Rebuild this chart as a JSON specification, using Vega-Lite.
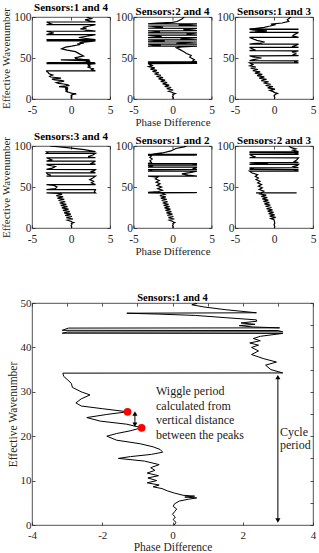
{
  "$schema": "https://vega.github.io/schema/vega-lite/v6.json",
  "padding": {"left": 0, "top": 1, "right": 0, "bottom": 0},
  "background": "white",
  "datasets": {
    "phase": [
      {"s":"14","d":0.05,"w":0},{"s":"14","d":0.10,"w":0.6},{"s":"14","d":0.02,"w":1.2},{"s":"14","d":0.08,"w":1.8},{"s":"14","d":0.00,"w":2.4},{"s":"14","d":0.06,"w":3.0},{"s":"14","d":0.12,"w":3.6},{"s":"14","d":0.02,"w":4.2},{"s":"14","d":0.06,"w":4.8},{"s":"14","d":0.20,"w":5.4},{"s":"14","d":0.45,"w":5.8},{"s":"14","d":0.69,"w":6.1},{"s":"14","d":0.35,"w":6.3},{"s":"14","d":0.63,"w":6.5},{"s":"14","d":0.30,"w":6.7},{"s":"14","d":0.05,"w":7.2},{"s":"14","d":-0.15,"w":7.7},{"s":"14","d":-0.30,"w":8.2},{"s":"14","d":-0.55,"w":8.6},{"s":"14","d":-0.38,"w":9.0},{"s":"14","d":-0.72,"w":9.5},{"s":"14","d":-0.45,"w":10.0},{"s":"14","d":-0.70,"w":10.6},{"s":"14","d":-0.40,"w":11.1},{"s":"14","d":-0.72,"w":11.7},{"s":"14","d":-0.50,"w":12.3},{"s":"14","d":-0.62,"w":12.9},{"s":"14","d":-0.38,"w":13.6},{"s":"14","d":-0.80,"w":14.4},{"s":"14","d":-1.54,"w":15.0},{"s":"14","d":-1.20,"w":15.4},{"s":"14","d":-0.60,"w":15.9},{"s":"14","d":-0.28,"w":16.4},{"s":"14","d":-0.35,"w":17.0},{"s":"14","d":-0.55,"w":17.6},{"s":"14","d":-0.92,"w":18.3},{"s":"14","d":-1.59,"w":19.1},{"s":"14","d":-1.87,"w":20.0},{"s":"14","d":-1.59,"w":20.6},{"s":"14","d":-1.21,"w":21.2},{"s":"14","d":-0.88,"w":21.9},{"s":"14","d":-1.30,"w":22.7},{"s":"14","d":-2.06,"w":23.4},{"s":"14","d":-2.44,"w":24.2},{"s":"14","d":-1.87,"w":24.9},{"s":"14","d":-1.28,"w":25.5},{"s":"14","d":-2.00,"w":26.2},{"s":"14","d":-2.60,"w":26.8},{"s":"14","d":-2.75,"w":27.5},{"s":"14","d":-2.60,"w":28.4},{"s":"14","d":-2.35,"w":29.3},{"s":"14","d":-2.60,"w":30.0},{"s":"14","d":-2.85,"w":31.0},{"s":"14","d":-2.88,"w":31.9},{"s":"14","d":-3.00,"w":32.8},{"s":"14","d":-3.10,"w":33.5},{"s":"14","d":-3.12,"w":34.2},{"s":"14","d":3.14,"w":34.25},{"s":"14","d":2.80,"w":35.0},{"s":"14","d":2.65,"w":36.0},{"s":"14","d":2.96,"w":36.7},{"s":"14","d":2.58,"w":37.5},{"s":"14","d":2.25,"w":38.4},{"s":"14","d":2.45,"w":39.2},{"s":"14","d":2.25,"w":40.0},{"s":"14","d":2.45,"w":40.5},{"s":"14","d":2.20,"w":41.0},{"s":"14","d":2.50,"w":41.5},{"s":"14","d":2.30,"w":42.0},{"s":"14","d":2.50,"w":42.5},{"s":"14","d":3.14,"w":43.15},{"s":"14","d":-3.14,"w":43.2},{"s":"14","d":-3.00,"w":43.45},{"s":"14","d":3.14,"w":43.5},{"s":"14","d":3.00,"w":43.8},{"s":"14","d":-3.14,"w":43.85},{"s":"14","d":-2.96,"w":44.35},{"s":"14","d":3.05,"w":44.4},{"s":"14","d":2.30,"w":44.6},{"s":"14","d":1.90,"w":44.9},{"s":"14","d":2.35,"w":45.2},{"s":"14","d":1.95,"w":45.5},{"s":"14","d":2.40,"w":45.9},{"s":"14","d":2.39,"w":46.2},{"s":"14","d":1.50,"w":46.7},{"s":"14","d":0.65,"w":47.2},{"s":"14","d":-0.40,"w":47.5},{"s":"14","d":-1.30,"w":47.7},{"s":"14","d":2.39,"w":47.8},{"s":"14","d":1.50,"w":48.5},{"s":"14","d":0.90,"w":49.1},{"s":"14","d":0.55,"w":49.6},{"s":"14","d":0.70,"w":49.9},{"s":"14","d":0.45,"w":50.3},{"s":"14","d":0.90,"w":51.0},{"s":"14","d":1.60,"w":52.5},{"s":"14","d":1.20,"w":54.4},{"s":"14","d":0.57,"w":57.7},{"s":"14","d":-0.50,"w":59.7},{"s":"14","d":-1.20,"w":61.3},{"s":"14","d":-0.70,"w":63.3},{"s":"14","d":0.10,"w":64.5},{"s":"14","d":1.20,"w":66.5},{"s":"14","d":0.80,"w":67.2},{"s":"14","d":1.65,"w":68.0},{"s":"14","d":1.10,"w":68.8},{"s":"14","d":2.00,"w":69.6},{"s":"14","d":3.14,"w":70.8},{"s":"14","d":-3.14,"w":70.9},{"s":"14","d":-2.60,"w":71.6},{"s":"14","d":-3.14,"w":72.4},{"s":"14","d":3.14,"w":72.5},{"s":"14","d":2.20,"w":73.5},{"s":"14","d":1.00,"w":75.0},{"s":"14","d":1.80,"w":76.2},{"s":"14","d":2.60,"w":77.5},{"s":"14","d":3.14,"w":78.5},{"s":"14","d":-3.14,"w":78.6},{"s":"14","d":-2.80,"w":79.5},{"s":"14","d":-2.20,"w":80.5},{"s":"14","d":-3.14,"w":82.6},{"s":"14","d":3.14,"w":82.7},{"s":"14","d":2.00,"w":84.0},{"s":"14","d":1.20,"w":85.5},{"s":"14","d":2.00,"w":86.5},{"s":"14","d":1.50,"w":87.5},{"s":"14","d":2.40,"w":89.0},{"s":"14","d":3.14,"w":90.6},{"s":"14","d":-3.14,"w":90.7},{"s":"14","d":-2.50,"w":91.5},{"s":"14","d":-3.14,"w":93.9},{"s":"14","d":3.14,"w":94.0},{"s":"14","d":2.50,"w":95.0},{"s":"14","d":1.80,"w":96.5},{"s":"14","d":2.60,"w":98.0},{"s":"14","d":2.00,"w":100},

      {"s":"24","d":0.05,"w":0},{"s":"24","d":0.12,"w":1.5},{"s":"24","d":0.0,"w":3},{"s":"24","d":0.1,"w":4.5},{"s":"24","d":0.05,"w":5.5},{"s":"24","d":0.35,"w":6.5},{"s":"24","d":0.1,"w":7.2},{"s":"24","d":0.0,"w":8},{"s":"24","d":-0.48,"w":9.5},{"s":"24","d":0.09,"w":11},{"s":"24","d":-0.74,"w":12.5},{"s":"24","d":-0.17,"w":14},{"s":"24","d":-1.00,"w":15.5},{"s":"24","d":-0.43,"w":17},{"s":"24","d":-1.26,"w":18.5},{"s":"24","d":-0.69,"w":20},{"s":"24","d":-1.52,"w":21.5},{"s":"24","d":-0.95,"w":23},{"s":"24","d":-1.78,"w":24.5},{"s":"24","d":-1.22,"w":26},{"s":"24","d":-2.05,"w":27.5},{"s":"24","d":-1.48,"w":29},{"s":"24","d":-2.31,"w":30.5},{"s":"24","d":-1.74,"w":32},{"s":"24","d":-2.57,"w":33.5},{"s":"24","d":-2.00,"w":35},{"s":"24","d":-2.83,"w":36.5},{"s":"24","d":-2.26,"w":38},{"s":"24","d":-3.05,"w":39.5},{"s":"24","d":-2.60,"w":41},{"s":"24","d":-3.00,"w":42.5},{"s":"24","d":-3.14,"w":43.2},{"s":"24","d":3.14,"w":43.3},{"s":"24","d":3.00,"w":44.0},{"s":"24","d":3.14,"w":44.4},{"s":"24","d":-3.14,"w":44.5},{"s":"24","d":-3.00,"w":44.8},{"s":"24","d":-3.14,"w":45.2},{"s":"24","d":3.14,"w":45.3},{"s":"24","d":2.60,"w":46.5},{"s":"24","d":2.80,"w":48},{"s":"24","d":2.20,"w":51},{"s":"24","d":2.40,"w":53},{"s":"24","d":1.80,"w":55.5},{"s":"24","d":1.40,"w":58},{"s":"24","d":0.90,"w":60.5},{"s":"24","d":0.50,"w":62.5},{"s":"24","d":1.20,"w":63.5},{"s":"24","d":3.14,"w":64.5},{"s":"24","d":-3.14,"w":64.6},{"s":"24","d":-1.50,"w":65.5},{"s":"24","d":-3.14,"w":66.8},{"s":"24","d":3.14,"w":66.9},{"s":"24","d":0.50,"w":68.0},{"s":"24","d":3.14,"w":69.5},{"s":"24","d":-3.14,"w":69.6},{"s":"24","d":-1.00,"w":70.5},{"s":"24","d":-3.14,"w":72.0},{"s":"24","d":3.14,"w":72.1},{"s":"24","d":1.00,"w":73.2},{"s":"24","d":3.14,"w":74.8},{"s":"24","d":-3.14,"w":74.9},{"s":"24","d":-1.40,"w":76.0},{"s":"24","d":-3.14,"w":77.8},{"s":"24","d":3.14,"w":77.9},{"s":"24","d":1.80,"w":79.0},{"s":"24","d":3.14,"w":80.6},{"s":"24","d":-3.14,"w":80.7},{"s":"24","d":-1.60,"w":81.8},{"s":"24","d":-3.14,"w":83.2},{"s":"24","d":3.14,"w":83.3},{"s":"24","d":1.40,"w":84.5},{"s":"24","d":3.14,"w":86.2},{"s":"24","d":-3.14,"w":86.3},{"s":"24","d":-1.20,"w":87.5},{"s":"24","d":-3.14,"w":89.0},{"s":"24","d":3.14,"w":89.1},{"s":"24","d":0.80,"w":90.2},{"s":"24","d":3.14,"w":91.5},{"s":"24","d":-3.14,"w":91.6},{"s":"24","d":-2.00,"w":92.5},{"s":"24","d":0.00,"w":93.5},{"s":"24","d":0.60,"w":94.5},{"s":"24","d":1.20,"w":97.5},{"s":"24","d":1.50,"w":100},

      {"s":"13","d":0.05,"w":0},{"s":"13","d":0.1,"w":2},{"s":"13","d":0.0,"w":4},{"s":"13","d":0.15,"w":5.5},{"s":"13","d":0.45,"w":6.8},{"s":"13","d":0.1,"w":7.8},{"s":"13","d":-0.10,"w":9},{"s":"13","d":-0.54,"w":10.5},{"s":"13","d":0.13,"w":12},{"s":"13","d":-0.81,"w":13.5},{"s":"13","d":-0.15,"w":15},{"s":"13","d":-1.08,"w":16.5},{"s":"13","d":-0.42,"w":18},{"s":"13","d":-1.35,"w":19.5},{"s":"13","d":-0.69,"w":21},{"s":"13","d":-1.63,"w":22.5},{"s":"13","d":-0.96,"w":24},{"s":"13","d":-1.90,"w":25.5},{"s":"13","d":-1.24,"w":27},{"s":"13","d":-2.17,"w":28.5},{"s":"13","d":-1.51,"w":30},{"s":"13","d":-2.45,"w":31.5},{"s":"13","d":-1.78,"w":33},{"s":"13","d":-2.72,"w":34.5},{"s":"13","d":-2.05,"w":36},{"s":"13","d":-2.99,"w":37.5},{"s":"13","d":-2.33,"w":39},{"s":"13","d":-3.10,"w":40.5},{"s":"13","d":-2.70,"w":42},{"s":"13","d":-3.05,"w":43.5},{"s":"13","d":-3.14,"w":44.0},{"s":"13","d":3.14,"w":44.1},{"s":"13","d":2.60,"w":45.0},{"s":"13","d":3.14,"w":46.6},{"s":"13","d":-3.14,"w":46.7},{"s":"13","d":-2.60,"w":48.0},{"s":"13","d":-1.60,"w":50.0},{"s":"13","d":-2.80,"w":51.5},{"s":"13","d":-3.14,"w":52.7},{"s":"13","d":3.14,"w":52.8},{"s":"13","d":2.50,"w":54.5},{"s":"13","d":2.80,"w":56.0},{"s":"13","d":2.30,"w":57.5},{"s":"13","d":3.14,"w":58.8},{"s":"13","d":-3.14,"w":58.9},{"s":"13","d":-2.50,"w":60.0},{"s":"13","d":-3.14,"w":62.9},{"s":"13","d":3.14,"w":63.0},{"s":"13","d":2.30,"w":64.0},{"s":"13","d":2.70,"w":65.0},{"s":"13","d":3.14,"w":66.9},{"s":"13","d":-3.14,"w":67.0},{"s":"13","d":-1.80,"w":68.2},{"s":"13","d":-1.20,"w":69.5},{"s":"13","d":-2.20,"w":71.5},{"s":"13","d":-3.14,"w":75.1},{"s":"13","d":3.14,"w":75.2},{"s":"13","d":2.40,"w":77.0},{"s":"13","d":2.60,"w":78.5},{"s":"13","d":3.14,"w":81.2},{"s":"13","d":-3.14,"w":81.3},{"s":"13","d":-2.00,"w":82.2},{"s":"13","d":-0.90,"w":83.0},{"s":"13","d":-2.50,"w":84.0},{"s":"13","d":-3.14,"w":84.9},{"s":"13","d":3.14,"w":85.0},{"s":"13","d":2.70,"w":85.2},{"s":"13","d":3.14,"w":85.3},{"s":"13","d":-3.14,"w":85.4},{"s":"13","d":-2.50,"w":86.0},{"s":"13","d":-1.25,"w":87.4},{"s":"13","d":-0.50,"w":89.0},{"s":"13","d":0.20,"w":90.7},{"s":"13","d":-0.40,"w":91.3},{"s":"13","d":1.04,"w":92.7},{"s":"13","d":1.90,"w":94.7},{"s":"13","d":1.70,"w":96.7},{"s":"13","d":2.10,"w":99.6},{"s":"13","d":2.20,"w":100},

      {"s":"34","d":0.05,"w":0},{"s":"34","d":0.1,"w":1.5},{"s":"34","d":0.0,"w":3},{"s":"34","d":0.12,"w":4.5},{"s":"34","d":0.05,"w":5.5},{"s":"34","d":0.35,"w":6.6},{"s":"34","d":0.1,"w":7.3},{"s":"34","d":0.05,"w":8},{"s":"34","d":-0.47,"w":9.5},{"s":"34","d":0.26,"w":11},{"s":"34","d":-0.61,"w":12.5},{"s":"34","d":0.12,"w":14},{"s":"34","d":-0.75,"w":15.5},{"s":"34","d":-0.02,"w":17},{"s":"34","d":-0.89,"w":18.5},{"s":"34","d":-0.16,"w":20},{"s":"34","d":-1.04,"w":21.5},{"s":"34","d":-0.31,"w":23},{"s":"34","d":-1.18,"w":24.5},{"s":"34","d":-0.45,"w":26},{"s":"34","d":-1.32,"w":27.5},{"s":"34","d":-0.59,"w":29},{"s":"34","d":-1.46,"w":30.5},{"s":"34","d":-0.73,"w":32},{"s":"34","d":-1.60,"w":33.5},{"s":"34","d":-0.87,"w":35},{"s":"34","d":-1.74,"w":36.5},{"s":"34","d":-1.01,"w":38},{"s":"34","d":-1.88,"w":39.5},{"s":"34","d":-1.15,"w":41},{"s":"34","d":-1.70,"w":42.3},{"s":"34","d":-3.14,"w":42.8},{"s":"34","d":3.14,"w":42.9},{"s":"34","d":3.00,"w":44.0},{"s":"34","d":3.14,"w":46.8},{"s":"34","d":-3.14,"w":46.9},{"s":"34","d":-2.00,"w":48.0},{"s":"34","d":-1.80,"w":50.0},{"s":"34","d":-2.20,"w":52.0},{"s":"34","d":-3.14,"w":52.9},{"s":"34","d":3.14,"w":53.0},{"s":"34","d":2.60,"w":55.0},{"s":"34","d":2.90,"w":57.0},{"s":"34","d":2.40,"w":59.0},{"s":"34","d":2.80,"w":61.0},{"s":"34","d":3.14,"w":63.2},{"s":"34","d":-3.14,"w":63.3},{"s":"34","d":-2.60,"w":64.5},{"s":"34","d":-3.00,"w":65.5},{"s":"34","d":-3.14,"w":67.2},{"s":"34","d":3.14,"w":67.3},{"s":"34","d":2.50,"w":68.5},{"s":"34","d":3.00,"w":70.0},{"s":"34","d":3.14,"w":71.3},{"s":"34","d":-3.14,"w":71.4},{"s":"34","d":-2.40,"w":73.0},{"s":"34","d":-2.00,"w":75.0},{"s":"34","d":-2.90,"w":76.5},{"s":"34","d":-3.14,"w":77.5},{"s":"34","d":3.14,"w":77.6},{"s":"34","d":2.60,"w":79.0},{"s":"34","d":3.14,"w":81.5},{"s":"34","d":-3.14,"w":81.6},{"s":"34","d":-2.50,"w":83.0},{"s":"34","d":-3.14,"w":85.6},{"s":"34","d":3.14,"w":85.7},{"s":"34","d":2.20,"w":87.0},{"s":"34","d":2.80,"w":89.0},{"s":"34","d":3.14,"w":91.0},{"s":"34","d":-3.14,"w":91.1},{"s":"34","d":-3.00,"w":92.0},{"s":"34","d":-3.14,"w":93.0},{"s":"34","d":3.14,"w":93.1},{"s":"34","d":1.70,"w":95.5},{"s":"34","d":-0.50,"w":98.0},{"s":"34","d":-2.70,"w":100},

      {"s":"12","d":0.05,"w":0},{"s":"12","d":0.1,"w":1.5},{"s":"12","d":0.0,"w":3},{"s":"12","d":0.1,"w":4.5},{"s":"12","d":0.05,"w":5.5},{"s":"12","d":0.3,"w":6.6},{"s":"12","d":0.1,"w":7.3},{"s":"12","d":0.05,"w":8},{"s":"12","d":-0.41,"w":9.5},{"s":"12","d":0.23,"w":11},{"s":"12","d":-0.53,"w":12.5},{"s":"12","d":0.11,"w":14},{"s":"12","d":-0.65,"w":15.5},{"s":"12","d":-0.01,"w":17},{"s":"12","d":-0.77,"w":18.5},{"s":"12","d":-0.14,"w":20},{"s":"12","d":-0.90,"w":21.5},{"s":"12","d":-0.26,"w":23},{"s":"12","d":-1.02,"w":24.5},{"s":"12","d":-0.38,"w":26},{"s":"12","d":-1.14,"w":27.5},{"s":"12","d":-0.50,"w":29},{"s":"12","d":-1.26,"w":30.5},{"s":"12","d":-0.62,"w":32},{"s":"12","d":-1.38,"w":33.5},{"s":"12","d":-0.74,"w":35},{"s":"12","d":-1.50,"w":36.5},{"s":"12","d":-0.86,"w":38},{"s":"12","d":-1.62,"w":39.5},{"s":"12","d":-0.98,"w":41},{"s":"12","d":-1.40,"w":42.6},{"s":"12","d":-3.14,"w":42.9},{"s":"12","d":3.14,"w":43.0},{"s":"12","d":2.90,"w":43.15},{"s":"12","d":3.14,"w":43.3},{"s":"12","d":-3.14,"w":43.4},{"s":"12","d":-1.80,"w":44.5},{"s":"12","d":-1.30,"w":46.0},{"s":"12","d":-1.90,"w":48.0},{"s":"12","d":-1.40,"w":50.0},{"s":"12","d":-2.00,"w":52.0},{"s":"12","d":-1.60,"w":54.0},{"s":"12","d":-2.10,"w":56.0},{"s":"12","d":-1.70,"w":58.0},{"s":"12","d":-2.20,"w":60.0},{"s":"12","d":-1.90,"w":62.0},{"s":"12","d":-3.14,"w":63.2},{"s":"12","d":3.14,"w":63.3},{"s":"12","d":2.00,"w":64.5},{"s":"12","d":1.20,"w":66.0},{"s":"12","d":2.20,"w":67.5},{"s":"12","d":3.14,"w":69.3},{"s":"12","d":-3.14,"w":69.4},{"s":"12","d":-2.60,"w":70.2},{"s":"12","d":-3.14,"w":71.3},{"s":"12","d":3.14,"w":71.4},{"s":"12","d":2.70,"w":72.5},{"s":"12","d":3.14,"w":74.2},{"s":"12","d":-3.14,"w":74.3},{"s":"12","d":-2.70,"w":75.5},{"s":"12","d":-3.14,"w":76.6},{"s":"12","d":3.14,"w":76.7},{"s":"12","d":2.80,"w":77.5},{"s":"12","d":3.14,"w":78.4},{"s":"12","d":-3.14,"w":78.5},{"s":"12","d":-2.70,"w":80.0},{"s":"12","d":-2.90,"w":82.0},{"s":"12","d":-2.60,"w":84.0},{"s":"12","d":-2.90,"w":86.0},{"s":"12","d":-2.70,"w":88.0},{"s":"12","d":-3.14,"w":88.8},{"s":"12","d":3.14,"w":88.9},{"s":"12","d":2.80,"w":89.3},{"s":"12","d":3.14,"w":89.7},{"s":"12","d":-3.14,"w":89.8},{"s":"12","d":-2.56,"w":90.0},{"s":"12","d":-1.30,"w":91.5},{"s":"12","d":-0.20,"w":94.0},{"s":"12","d":0.43,"w":97.0},{"s":"12","d":1.50,"w":99.0},{"s":"12","d":1.80,"w":100},

      {"s":"23","d":0.05,"w":0},{"s":"23","d":0.1,"w":2},{"s":"23","d":0.0,"w":4},{"s":"23","d":0.1,"w":6},{"s":"23","d":0.05,"w":8},{"s":"23","d":0.00,"w":10},{"s":"23","d":-0.42,"w":11.5},{"s":"23","d":0.22,"w":13},{"s":"23","d":-0.55,"w":14.5},{"s":"23","d":0.08,"w":16},{"s":"23","d":-0.69,"w":17.5},{"s":"23","d":-0.05,"w":19},{"s":"23","d":-0.82,"w":20.5},{"s":"23","d":-0.19,"w":22},{"s":"23","d":-0.96,"w":23.5},{"s":"23","d":-0.32,"w":25},{"s":"23","d":-1.09,"w":26.5},{"s":"23","d":-0.46,"w":28},{"s":"23","d":-1.23,"w":29.5},{"s":"23","d":-0.59,"w":31},{"s":"23","d":-1.36,"w":32.5},{"s":"23","d":-0.73,"w":34},{"s":"23","d":-1.50,"w":35.5},{"s":"23","d":-0.86,"w":37},{"s":"23","d":-1.63,"w":38.5},{"s":"23","d":-1.00,"w":40},{"s":"23","d":-1.77,"w":41.5},{"s":"23","d":-1.50,"w":42.6},{"s":"23","d":-2.30,"w":42.8},{"s":"23","d":2.90,"w":42.9},{"s":"23","d":-1.60,"w":43.2},{"s":"23","d":-1.30,"w":45.0},{"s":"23","d":-1.90,"w":47.0},{"s":"23","d":-1.50,"w":49.0},{"s":"23","d":-2.00,"w":51.0},{"s":"23","d":-1.60,"w":53.0},{"s":"23","d":-2.10,"w":55.0},{"s":"23","d":-1.80,"w":57.0},{"s":"23","d":-2.30,"w":59.0},{"s":"23","d":-2.00,"w":61.0},{"s":"23","d":-2.40,"w":63.0},{"s":"23","d":-2.10,"w":65.0},{"s":"23","d":-2.80,"w":67.0},{"s":"23","d":-3.14,"w":69.3},{"s":"23","d":3.14,"w":69.4},{"s":"23","d":2.60,"w":70.4},{"s":"23","d":3.14,"w":71.3},{"s":"23","d":-3.14,"w":71.4},{"s":"23","d":-2.60,"w":72.4},{"s":"23","d":-3.14,"w":73.4},{"s":"23","d":3.14,"w":73.5},{"s":"23","d":2.50,"w":75.0},{"s":"23","d":3.00,"w":76.3},{"s":"23","d":3.14,"w":77.5},{"s":"23","d":-3.14,"w":77.6},{"s":"23","d":-1.70,"w":78.5},{"s":"23","d":-0.80,"w":79.0},{"s":"23","d":-2.00,"w":79.4},{"s":"23","d":-3.14,"w":79.6},{"s":"23","d":3.14,"w":79.7},{"s":"23","d":2.60,"w":81.0},{"s":"23","d":2.90,"w":83.0},{"s":"23","d":3.14,"w":85.6},{"s":"23","d":-3.14,"w":85.7},{"s":"23","d":-2.50,"w":87.0},{"s":"23","d":-3.14,"w":89.7},{"s":"23","d":3.14,"w":89.8},{"s":"23","d":2.70,"w":90.6},{"s":"23","d":3.14,"w":91.7},{"s":"23","d":-3.14,"w":91.8},{"s":"23","d":-2.80,"w":92.4},{"s":"23","d":-3.14,"w":93.0},{"s":"23","d":3.14,"w":93.1},{"s":"23","d":2.40,"w":95.0},{"s":"23","d":2.80,"w":96.5},{"s":"23","d":2.20,"w":98.0},{"s":"23","d":1.90,"w":100}
    ],
    "arrows": [
      {"d": 3.0, "w0": 1.0, "w1": 33.3},
      {"d": -1.07, "w0": 22.6, "w1": 25.1}
    ],
    "heads": [
      {"d": 3.0, "w": 33.3, "dir": "up"},
      {"d": 3.0, "w": 1.0, "dir": "down"},
      {"d": -1.07, "w": 25.1, "dir": "up"},
      {"d": -1.07, "w": 22.6, "dir": "down"}
    ],
    "peaks": [
      {"d": -1.28, "w": 25.5},
      {"d": -0.88, "w": 21.9}
    ],
    "notes": [
      {"d": -0.47, "w": 30.2, "t": "Wiggle period"},
      {"d": -0.47, "w": 26.8, "t": "calculated from"},
      {"d": -0.47, "w": 23.6, "t": "vertical distance"},
      {"d": -0.47, "w": 20.3, "t": "between the peaks"},
      {"d": 3.06, "w": 21.0, "t": "Cycle"},
      {"d": 3.06, "w": 18.0, "t": "period"}
    ]
  },
  "vconcat": [
    {
      "columns": 3,
      "bounds": "flush",
      "spacing": {"row": 47, "column": 23.5},
      "concat": [
        {
          "width": 78, "height": 82, "title": {"text": "Sensors:1 and 4", "offset": -6},
          "data": {"name": "phase"},
          "transform": [{"filter": "datum.s == '14'"}],
          "layer": [
            {"mark": {"type": "line", "color": "#000000", "strokeWidth": 1.2, "clip": true},
             "encoding": {
               "x": {"field": "d", "type": "quantitative", "scale": {"domain": [-5, 5], "nice": false, "zero": false}, "axis": {"values": [-5, 0, 5], "title": null}},
               "y": {"field": "w", "type": "quantitative", "scale": {"domain": [0, 100], "nice": false}, "axis": {"values": [0, 50, 100], "title": "Effective Wavenumber"}},
               "order": {"field": "w", "type": "quantitative"}}},
            {"mark": {"type": "point", "opacity": 0, "size": 0, "strokeWidth": 0},
             "encoding": {
               "x": {"field": "d", "type": "quantitative", "axis": {"orient": "top", "values": [-5, 0, 5], "labels": false, "title": null}},
               "y": {"field": "w", "type": "quantitative", "axis": {"orient": "right", "values": [0, 50, 100], "labels": false, "title": null}}}}
          ],
          "resolve": {"axis": {"x": "independent", "y": "independent"}}
        },
        {
          "width": 78, "height": 82, "title": {"text": "Sensors:2 and 4", "offset": -6},
          "data": {"name": "phase"},
          "transform": [{"filter": "datum.s == '24'"}],
          "layer": [
            {"mark": {"type": "line", "color": "#000000", "strokeWidth": 1.2, "clip": true},
             "encoding": {
               "x": {"field": "d", "type": "quantitative", "scale": {"domain": [-5, 5], "nice": false, "zero": false}, "axis": {"values": [-5, 0, 5], "title": "Phase Difference"}},
               "y": {"field": "w", "type": "quantitative", "scale": {"domain": [0, 100], "nice": false}, "axis": {"values": [0, 50, 100], "title": null}},
               "order": {"field": "w", "type": "quantitative"}}},
            {"mark": {"type": "point", "opacity": 0, "size": 0, "strokeWidth": 0},
             "encoding": {
               "x": {"field": "d", "type": "quantitative", "axis": {"orient": "top", "values": [-5, 0, 5], "labels": false, "title": null}},
               "y": {"field": "w", "type": "quantitative", "axis": {"orient": "right", "values": [0, 50, 100], "labels": false, "title": null}}}}
          ],
          "resolve": {"axis": {"x": "independent", "y": "independent"}}
        },
        {
          "width": 78, "height": 82, "title": {"text": "Sensors:1 and 3", "offset": -6},
          "data": {"name": "phase"},
          "transform": [{"filter": "datum.s == '13'"}],
          "layer": [
            {"mark": {"type": "line", "color": "#000000", "strokeWidth": 1.2, "clip": true},
             "encoding": {
               "x": {"field": "d", "type": "quantitative", "scale": {"domain": [-5, 5], "nice": false, "zero": false}, "axis": {"values": [-5, 0, 5], "title": null}},
               "y": {"field": "w", "type": "quantitative", "scale": {"domain": [0, 100], "nice": false}, "axis": {"values": [0, 50, 100], "title": null}},
               "order": {"field": "w", "type": "quantitative"}}},
            {"mark": {"type": "point", "opacity": 0, "size": 0, "strokeWidth": 0},
             "encoding": {
               "x": {"field": "d", "type": "quantitative", "axis": {"orient": "top", "values": [-5, 0, 5], "labels": false, "title": null}},
               "y": {"field": "w", "type": "quantitative", "axis": {"orient": "right", "values": [0, 50, 100], "labels": false, "title": null}}}}
          ],
          "resolve": {"axis": {"x": "independent", "y": "independent"}}
        },
        {
          "width": 78, "height": 82, "title": {"text": "Sensors:3 and 4", "offset": -6},
          "data": {"name": "phase"},
          "transform": [{"filter": "datum.s == '34'"}],
          "layer": [
            {"mark": {"type": "line", "color": "#000000", "strokeWidth": 1.2, "clip": true},
             "encoding": {
               "x": {"field": "d", "type": "quantitative", "scale": {"domain": [-5, 5], "nice": false, "zero": false}, "axis": {"values": [-5, 0, 5], "title": null}},
               "y": {"field": "w", "type": "quantitative", "scale": {"domain": [0, 100], "nice": false}, "axis": {"values": [0, 50, 100], "title": "Effective Wavenumber"}},
               "order": {"field": "w", "type": "quantitative"}}},
            {"mark": {"type": "point", "opacity": 0, "size": 0, "strokeWidth": 0},
             "encoding": {
               "x": {"field": "d", "type": "quantitative", "axis": {"orient": "top", "values": [-5, 0, 5], "labels": false, "title": null}},
               "y": {"field": "w", "type": "quantitative", "axis": {"orient": "right", "values": [0, 50, 100], "labels": false, "title": null}}}}
          ],
          "resolve": {"axis": {"x": "independent", "y": "independent"}}
        },
        {
          "width": 78, "height": 82, "title": {"text": "Sensors:1 and 2", "offset": -6},
          "data": {"name": "phase"},
          "transform": [{"filter": "datum.s == '12'"}],
          "layer": [
            {"mark": {"type": "line", "color": "#000000", "strokeWidth": 1.2, "clip": true},
             "encoding": {
               "x": {"field": "d", "type": "quantitative", "scale": {"domain": [-5, 5], "nice": false, "zero": false}, "axis": {"values": [-5, 0, 5], "title": "Phase Difference"}},
               "y": {"field": "w", "type": "quantitative", "scale": {"domain": [0, 100], "nice": false}, "axis": {"values": [0, 50, 100], "title": null}},
               "order": {"field": "w", "type": "quantitative"}}},
            {"mark": {"type": "point", "opacity": 0, "size": 0, "strokeWidth": 0},
             "encoding": {
               "x": {"field": "d", "type": "quantitative", "axis": {"orient": "top", "values": [-5, 0, 5], "labels": false, "title": null}},
               "y": {"field": "w", "type": "quantitative", "axis": {"orient": "right", "values": [0, 50, 100], "labels": false, "title": null}}}}
          ],
          "resolve": {"axis": {"x": "independent", "y": "independent"}}
        },
        {
          "width": 78, "height": 82, "title": {"text": "Sensors:2 and 3", "offset": -6},
          "data": {"name": "phase"},
          "transform": [{"filter": "datum.s == '23'"}],
          "layer": [
            {"mark": {"type": "line", "color": "#000000", "strokeWidth": 1.2, "clip": true},
             "encoding": {
               "x": {"field": "d", "type": "quantitative", "scale": {"domain": [-5, 5], "nice": false, "zero": false}, "axis": {"values": [-5, 0, 5], "title": null}},
               "y": {"field": "w", "type": "quantitative", "scale": {"domain": [0, 100], "nice": false}, "axis": {"values": [0, 50, 100], "title": null}},
               "order": {"field": "w", "type": "quantitative"}}},
            {"mark": {"type": "point", "opacity": 0, "size": 0, "strokeWidth": 0},
             "encoding": {
               "x": {"field": "d", "type": "quantitative", "axis": {"orient": "top", "values": [-5, 0, 5], "labels": false, "title": null}},
               "y": {"field": "w", "type": "quantitative", "axis": {"orient": "right", "values": [0, 50, 100], "labels": false, "title": null}}}}
          ],
          "resolve": {"axis": {"x": "independent", "y": "independent"}}
        }
      ]
    },
    {
      "hconcat": [
        {
          "width": 281, "height": 222, "title": {"text": "Sensors:1 and 4", "offset": -6, "fontSize": 10.5},
          "layer": [
            {
              "layer": [
                {"data": {"name": "phase"},
                 "transform": [{"filter": "datum.s == '14'"}],
                 "mark": {"type": "line", "color": "#000000", "strokeWidth": 1, "clip": true},
                 "encoding": {
                   "x": {"field": "d", "type": "quantitative", "title": "Phase Difference", "scale": {"domain": [-4, 4], "nice": false, "zero": false}, "axis": {"values": [-4, -3, -2, -1, 0, 1, 2, 3, 4], "labelFontSize": 11, "labelPadding": 7, "titleFontSize": 11.5, "titlePadding": 1}},
                   "y": {"field": "w", "type": "quantitative", "title": "Effective Wavenumber", "scale": {"domain": [0, 50], "nice": false}, "axis": {"values": [0, 5, 10, 15, 20, 25, 30, 35, 40, 45, 50], "labelFontSize": 11, "titleFontSize": 11.5}},
                   "order": {"field": "w", "type": "quantitative"}}},
                {"data": {"name": "arrows"},
                 "mark": {"type": "rule", "color": "#000000", "strokeWidth": 1},
                 "encoding": {
                   "x": {"field": "d", "type": "quantitative", "title": "Phase Difference", "scale": {"domain": [-4, 4], "nice": false, "zero": false}},
                   "y": {"field": "w0", "type": "quantitative", "title": "Effective Wavenumber", "scale": {"domain": [0, 50], "nice": false}},
                   "y2": {"field": "w1"}}},
                {"data": {"name": "heads"},
                 "mark": {"type": "point", "filled": true, "color": "#000000", "opacity": 1, "size": 26},
                 "encoding": {
                   "x": {"field": "d", "type": "quantitative", "title": "Phase Difference", "scale": {"domain": [-4, 4], "nice": false, "zero": false}},
                   "y": {"field": "w", "type": "quantitative", "title": "Effective Wavenumber", "scale": {"domain": [0, 50], "nice": false}},
                   "shape": {"field": "dir", "type": "nominal", "scale": {"domain": ["up", "down"], "range": ["triangle-up", "triangle-down"]}, "legend": null}}},
                {"data": {"name": "peaks"},
                 "mark": {"type": "point", "filled": true, "color": "#ff0000", "opacity": 1, "size": 60},
                 "encoding": {
                   "x": {"field": "d", "type": "quantitative", "title": "Phase Difference", "scale": {"domain": [-4, 4], "nice": false, "zero": false}},
                   "y": {"field": "w", "type": "quantitative", "title": "Effective Wavenumber", "scale": {"domain": [0, 50], "nice": false}}}},
                {"data": {"name": "notes"},
                 "mark": {"type": "text", "align": "left", "baseline": "middle", "font": "Liberation Serif", "fontSize": 12, "color": "#1a1a1a"},
                 "encoding": {
                   "x": {"field": "d", "type": "quantitative", "title": "Phase Difference", "scale": {"domain": [-4, 4], "nice": false, "zero": false}},
                   "y": {"field": "w", "type": "quantitative", "title": "Effective Wavenumber", "scale": {"domain": [0, 50], "nice": false}},
                   "text": {"field": "t", "type": "nominal"}}}
              ]
            },
            {"data": {"name": "peaks"},
             "mark": {"type": "point", "opacity": 0, "size": 0, "strokeWidth": 0},
             "encoding": {
               "x": {"field": "d", "type": "quantitative", "scale": {"domain": [-4, 4], "nice": false, "zero": false}, "axis": {"orient": "top", "values": [-4, -3, -2, -1, 0, 1, 2, 3, 4], "labels": false, "title": null}},
               "y": {"field": "w", "type": "quantitative", "scale": {"domain": [0, 50], "nice": false}, "axis": {"orient": "right", "values": [0, 5, 10, 15, 20, 25, 30, 35, 40, 45, 50], "labels": false, "title": null}}}}
          ],
          "resolve": {"axis": {"x": "independent", "y": "independent"}}
        }
      ]
    }
  ],
  "spacing": 35,
  "center": false,
  "config": {
    "font": "Liberation Serif",
    "view": {"stroke": "#262626", "strokeWidth": 0.8},
    "axis": {
      "domain": false, "grid": false, "ticks": true, "tickSize": -3, "tickColor": "#262626", "tickWidth": 0.8,
      "labelFont": "Liberation Serif", "labelFontSize": 11.5, "labelColor": "#262626",
      "labelFlush": false, "labelOverlap": false, "minExtent": 0,
      "labelExpr": "datum.value < 0 ? '-' + abs(datum.value) : '' + datum.value",
      "titleFont": "Liberation Serif", "titleFontSize": 11, "titleFontWeight": "normal", "titleColor": "#262626"
    },
    "axisX": {"labelPadding": 8, "titlePadding": 1},
    "axisY": {"labelPadding": 4, "titlePadding": 2},
    "title": {"font": "Liberation Serif", "fontSize": 11, "fontWeight": "bold", "color": "#000000"}
  }
}
